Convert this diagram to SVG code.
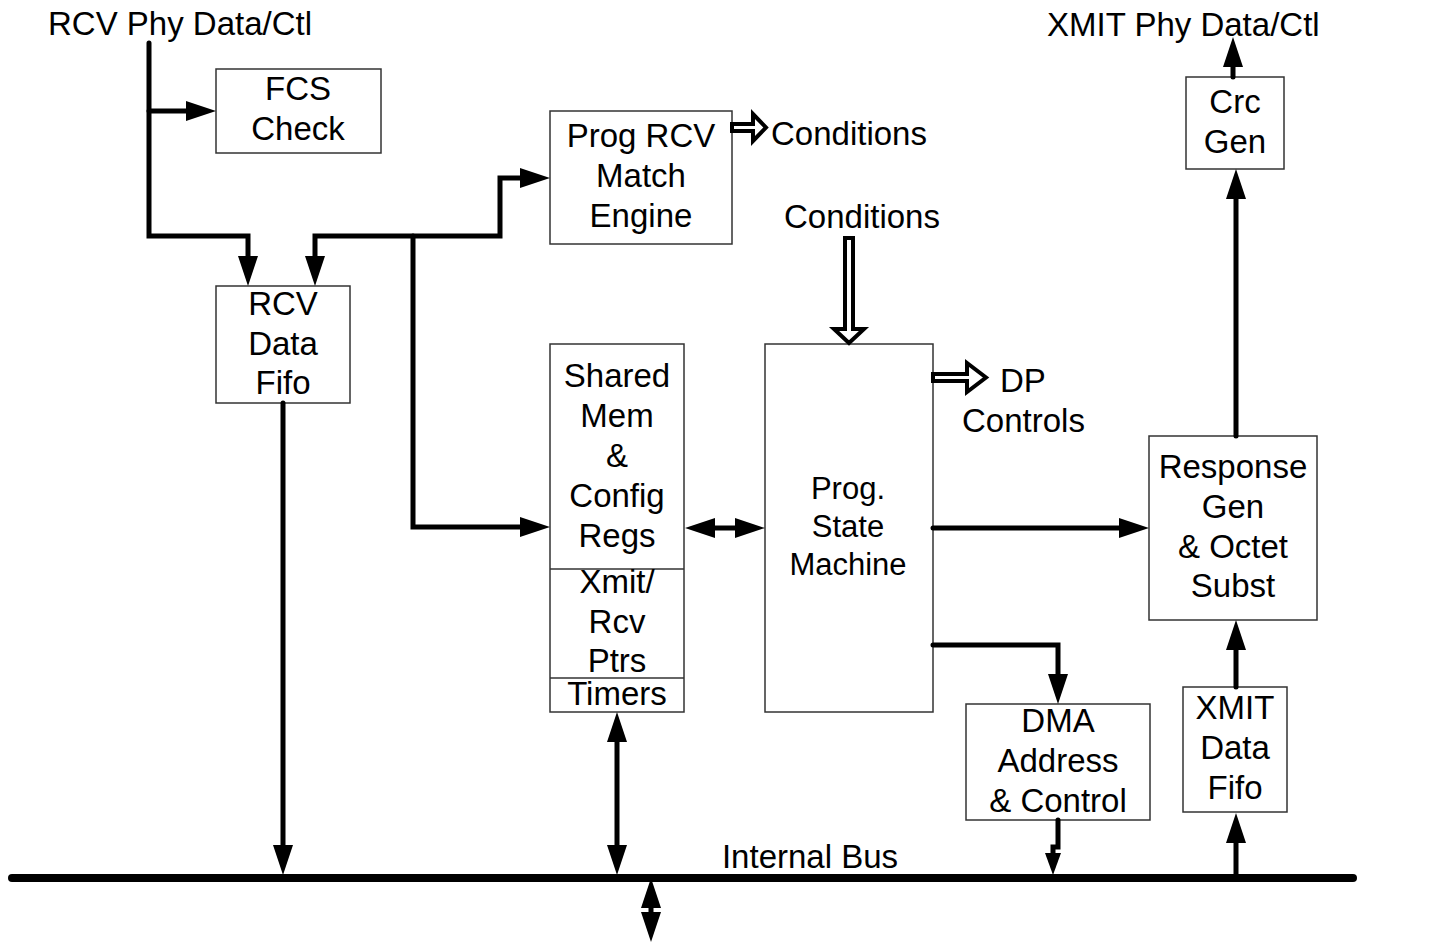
<svg xmlns="http://www.w3.org/2000/svg" width="1451" height="944" viewBox="0 0 1451 944">
<style>
.box{fill:#fff;stroke:#333;stroke-width:1.5}
.t{font-family:"Liberation Sans",Arial,sans-serif;font-size:33px;fill:#000;text-anchor:middle}
.ts{font-family:"Liberation Sans",Arial,sans-serif;font-size:31px;fill:#000;text-anchor:middle}
.tl{font-family:"Liberation Sans",Arial,sans-serif;font-size:33px;fill:#000}
.c{fill:none;stroke:#000;stroke-width:5;stroke-linecap:round;stroke-linejoin:miter}
.bus{fill:none;stroke:#000;stroke-width:8;stroke-linecap:round}
.hollow{fill:#fff;stroke:#000;stroke-width:4;stroke-linejoin:miter}
</style>
<defs>
<marker id="ah" viewBox="0 0 30 20" markerWidth="30" markerHeight="20" markerUnits="userSpaceOnUse" refX="0" refY="10" orient="auto-start-reverse">
<path d="M0,0 L30,10 L0,20 z" fill="#000"/>
</marker>
<marker id="ahs" viewBox="0 0 22 16" markerWidth="22" markerHeight="16" markerUnits="userSpaceOnUse" refX="0" refY="8" orient="auto-start-reverse">
<path d="M0,0 L22,8 L0,16 z" fill="#000"/>
</marker>
</defs>

<g id="labels">
<text class="tl" x="48" y="35">RCV Phy Data/Ctl</text>
<text class="tl" x="1047" y="36">XMIT Phy Data/Ctl</text>
<text class="tl" x="771" y="145">Conditions</text>
<text class="t" x="862" y="228">Conditions</text>
<text class="tl" x="1000" y="392">DP</text>
<text class="tl" x="962" y="432">Controls</text>
<text class="t" x="810" y="868">Internal Bus</text>
</g>

<g id="fcs">
<rect class="box" x="216" y="69" width="165" height="84"/>
<text class="t" x="298" y="100">FCS</text>
<text class="t" x="298" y="140">Check</text>
</g>

<g id="rcvfifo">
<rect class="box" x="216" y="286" width="134" height="117"/>
<text class="t" x="283" y="315">RCV</text>
<text class="t" x="283" y="355">Data</text>
<text class="t" x="283" y="394">Fifo</text>
</g>

<g id="match">
<rect class="box" x="550" y="111" width="182" height="133"/>
<text class="t" x="641" y="147">Prog RCV</text>
<text class="t" x="641" y="187">Match</text>
<text class="t" x="641" y="227">Engine</text>
</g>

<g id="sharedmem">
<rect class="box" x="550" y="344" width="134" height="368"/>
<line x1="550" y1="569" x2="684" y2="569" stroke="#333" stroke-width="1.5"/>
<line x1="550" y1="678" x2="684" y2="678" stroke="#333" stroke-width="1.5"/>
<text class="t" x="617" y="387">Shared</text>
<text class="t" x="617" y="427">Mem</text>
<text class="t" x="617" y="467">&amp;</text>
<text class="t" x="617" y="507">Config</text>
<text class="t" x="617" y="547">Regs</text>
<text class="t" x="617" y="593">Xmit/</text>
<text class="t" x="617" y="633">Rcv</text>
<text class="t" x="617" y="672">Ptrs</text>
<text class="t" x="617" y="705">Timers</text>
</g>

<g id="psm">
<rect class="box" x="765" y="344" width="168" height="368"/>
<text class="ts" x="848" y="499">Prog.</text>
<text class="ts" x="848" y="537">State</text>
<text class="ts" x="848" y="575">Machine</text>
</g>

<g id="crc">
<rect class="box" x="1186" y="77" width="98" height="92"/>
<text class="t" x="1235" y="113">Crc</text>
<text class="t" x="1235" y="153">Gen</text>
</g>

<g id="response">
<rect class="box" x="1149" y="436" width="168" height="184"/>
<text class="t" x="1233" y="478">Response</text>
<text class="t" x="1233" y="518">Gen</text>
<text class="t" x="1233" y="558">&amp; Octet</text>
<text class="t" x="1233" y="597">Subst</text>
</g>

<g id="dma">
<rect class="box" x="966" y="704" width="184" height="116"/>
<text class="t" x="1058" y="732">DMA</text>
<text class="t" x="1058" y="772">Address</text>
<text class="t" x="1058" y="812">&amp; Control</text>
</g>

<g id="xmitfifo">
<rect class="box" x="1183" y="687" width="104" height="125"/>
<text class="t" x="1235" y="719">XMIT</text>
<text class="t" x="1235" y="759">Data</text>
<text class="t" x="1235" y="799">Fifo</text>
</g>

<g id="connectors">
<path class="bus" d="M12,878 H1353"/>
<path class="c" d="M149,43 V236 H248 V256" marker-end="url(#ah)"/>
<path class="c" d="M149,111 H186" marker-end="url(#ah)"/>
<path class="c" d="M315,256 V236 H500 V178 H520" marker-start="url(#ah)" marker-end="url(#ah)"/>
<path class="c" d="M413,236 V527 H520" marker-end="url(#ah)"/>
<path class="c" d="M715,528 H735" marker-start="url(#ah)" marker-end="url(#ah)"/>
<path class="c" d="M933,528 H1119" marker-end="url(#ah)"/>
<path class="c" d="M933,645 H1058 V674" marker-end="url(#ah)"/>
<path class="c" d="M1058,820 V847 H1053 V853" marker-end="url(#ahs)"/>
<path class="c" d="M1236,878 V843" marker-end="url(#ah)"/>
<path class="c" d="M1236,687 V650" marker-end="url(#ah)"/>
<path class="c" d="M1236,436 V199" marker-end="url(#ah)"/>
<path class="c" d="M1233,77 V67" marker-end="url(#ah)"/>
<path class="c" d="M283,403 V845" marker-end="url(#ah)"/>
<path class="c" d="M617,742 V845" marker-start="url(#ah)" marker-end="url(#ah)"/>
<path class="c" d="M651,908 V912" marker-start="url(#ah)" marker-end="url(#ah)"/>
<polygon class="hollow" points="845,238 853,238 853,329 864,329 849,343 834,329 845,329"/>
<polygon class="hollow" points="732,124 753,124 753,114 766,127.5 753,141 753,131 732,131"/>
<polygon class="hollow" points="933,374 967,374 967,363 986,377.5 967,392 967,381 933,381"/>
</g>
</svg>
